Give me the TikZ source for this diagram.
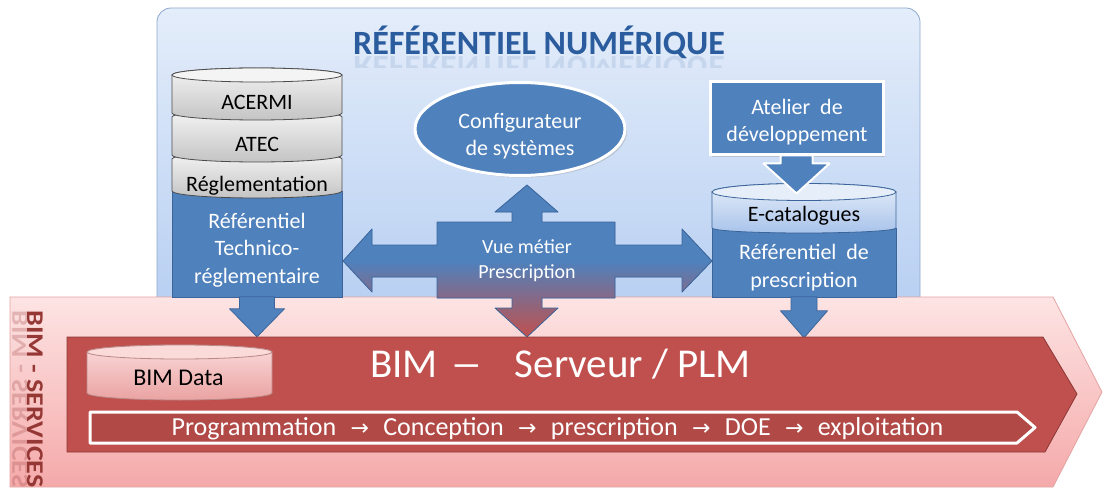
\documentclass[tikz,border=0pt]{standalone}
\usepackage{fontspec}
\usepackage{graphicx}
\setmainfont{Carlito}
\newfontfamily\symfont{DejaVu Sans}
\usetikzlibrary{shapes,arrows,positioning,calc,shadows}

\definecolor{panelTop}{HTML}{E4EDFA}
\definecolor{panelBot}{HTML}{B7CFF2}
\definecolor{panelLine}{HTML}{8EA8CC}
\definecolor{blueFill}{HTML}{4F81BD}
\definecolor{blueLine}{HTML}{3B659A}
\definecolor{redFill}{HTML}{C0504D}
\definecolor{redLine}{HTML}{8C3836}
\definecolor{bandTop}{HTML}{FDE4E4}
\definecolor{bandBot}{HTML}{F5A9A9}
\definecolor{bandLine}{HTML}{E3A3A2}
\definecolor{grayTop}{HTML}{F4F4F4}
\definecolor{grayBot}{HTML}{C4C4C4}
\definecolor{titleBlue}{HTML}{2B5C9E}
\definecolor{servRed}{HTML}{953735}
\definecolor{pinkTop}{HTML}{FBDADA}
\definecolor{pinkBot}{HTML}{E9A3A2}
\definecolor{ecatTop}{HTML}{E6EEFA}
\definecolor{ecatBot}{HTML}{A8C3EA}

\newcommand{\fleche}{\hspace{0.55em}{\symfont\fontsize{22}{22}\selectfont →}\hspace{0.55em}}

\begin{document}
\begin{tikzpicture}[x=1pt, y=-1pt,
    every node/.style={align=center, inner sep=0pt},
    txt/.style={font=\fontsize{22}{27.5}\selectfont},
    bluebox/.style={rectangle, fill=blueFill, draw=blueLine, line width=0.8pt},
    whitebox/.style={fill=blueFill, draw=white, line width=3pt, drop shadow={opacity=0.3, shadow xshift=2pt, shadow yshift=-2pt}},
    blockarr/.style={fill=blueFill, draw=blueLine, line width=0.8pt, line join=round},
    layer/.style={top color=grayTop, bottom color=grayBot, draw=black!70, line width=0.8pt},
    titre/.style={font=\fontsize{34}{34}\selectfont\bfseries, text=titleBlue},
    servtxt/.style={font=\fontsize{24}{24}\selectfont\bfseries, text=servRed, rotate=-90, xscale=1.17}]
\useasboundingbox (0,0) rectangle (1105,489);

% Referentiel numerique
\draw[rounded corners=14pt, top color=panelTop, bottom color=panelBot, draw=panelLine, line width=0.8pt] (157,8) rectangle (920,310);
\node[titre, anchor=base] (titreRef) at (539,55) {RÉFÉRENTIEL NUMÉRIQUE};
\begin{scope}
  \clip (340,56) rectangle (740,68);
  \node[titre, anchor=base, yscale=-1, opacity=0.12] (titreReflet) at (539,57) {RÉFÉRENTIEL NUMÉRIQUE};
\end{scope}

% BIM services
\draw[top color=bandTop, bottom color=bandBot, draw=bandLine, line width=0.8pt] (10,297) -- (1053,297) -- (1102,392) -- (1053,487) -- (10,487) -- cycle;
\node[servtxt] (services) at (35,399) {BIM - SERVICES};
\node[servtxt, yscale=-1, opacity=0.25] (servReflet) at (20,399) {BIM - SERVICES};

% Referentiel technico-reglementaire
\node[bluebox, minimum width=170, minimum height=106, anchor=north] (techno) at (257,191) {};
\foreach \haut/\bas in {159/191, 117/155, 75/113}
  \draw[layer] (172,\haut) -- (172,\bas) arc[start angle=180, end angle=0, x radius=85, y radius=7]
    -- (342,\haut) arc[start angle=0, end angle=-180, x radius=85, y radius=7] -- cycle;
\draw[fill=grayTop, draw=black!70, line width=0.8pt] (257,75) ellipse[x radius=85, y radius=7];
\node[txt, anchor=base] (acermi) at (257,110) {ACERMI};
\node[txt, anchor=base] (atec) at (257,152) {ATEC};
\node[txt, anchor=base] (regl) at (257,192) {Réglementation};
\node[txt, text=white] (technoTxt) at (257,250) {Référentiel\\Technico-\\réglementaire};

% Configurateur
\node[whitebox, ellipse, minimum width=210, minimum height=93] (config) at (520,129) {};
\node[txt, text=white] (configTxt) at (520,136) {Configurateur\\de systèmes};

% Vue metier
\draw[blockarr, top color=blueFill, bottom color=redFill, middle color=blueFill]
  (527,185) -- (558,212) -- (542,212) -- (542,222) -- (615,222) -- (615,245) -- (682,245) -- (682,229)
  -- (712,261) -- (682,292) -- (682,277) -- (615,277) -- (615,298) -- (542,298) -- (542,308) -- (558,308)
  -- (527,337) -- (495,308) -- (512,308) -- (512,298) -- (437,298) -- (437,277) -- (372,277) -- (372,292)
  -- (343,261) -- (372,229) -- (372,245) -- (437,245) -- (437,222) -- (512,222) -- (512,212) -- (495,212) -- cycle;
\node[font=\fontsize{20}{25}\selectfont, text=white] (vue) at (527,260.5) {Vue métier\\Prescription};

% Referentiel de prescription
\node[bluebox, minimum width=184, minimum height=69, anchor=north] (prescr) at (804,228) {};
\draw[top color=ecatTop, bottom color=ecatBot, draw=blueLine, line width=0.8pt] (712,192) -- (712,228)
  arc[start angle=180, end angle=0, x radius=92, y radius=5] -- (896,192)
  arc[start angle=0, end angle=-180, x radius=92, y radius=8.5] -- cycle;
\draw[fill=ecatTop, draw=blueLine, line width=0.8pt] (804,192) ellipse[x radius=92, y radius=8.5];
\node[txt, anchor=base] (ecat) at (804,222) {E-catalogues};
\node[txt, text=white] (prescrTxt) at (804,267.5) {Référentiel~~de\\prescription};

% Atelier de developpement
\node[whitebox, rectangle, minimum width=173, minimum height=73] (atelier) at (796.5,118.5) {};
\node[txt, text=white] (atelierTxt) at (797,122) {Atelier~~de\\développement};
\draw[blockarr, draw=white, line width=2pt] (atelier.south) ++(-16,-1) -- ++(0,8) -- ++(-17,0) -- ++(33,30)
  -- ++(33,-30) -- ++(-17,0) -- ++(0,-8) -- cycle;

% Arrows down
\draw[blockarr] (techno.south) ++(-17.5,-1) -- ++(0,12) -- ++(-10,0) -- ++(27.5,28) -- ++(27.5,-28)
  -- ++(-10,0) -- ++(0,-12) -- cycle;
\draw[blockarr] (prescr.south) ++(-13,-1) -- ++(0,14) -- ++(-10.5,0) -- ++(23.5,27) -- ++(23.5,-27)
  -- ++(-10.5,0) -- ++(0,-14) -- cycle;

% BIM serveur
\draw[fill=redFill, draw=redLine, line width=0.8pt] (67,337) -- (1043,337) -- (1077,394) -- (1045,452) -- (67,452) -- cycle;
\node[font=\fontsize{41}{41}\selectfont, text=white, anchor=base] (plm) at (560.5,377)
  {BIM\hspace{4pt} \scalebox{1.6}[1]{–}\hspace{22pt} Serveur / PLM};

% BIM data
\draw[top color=pinkTop, bottom color=pinkBot, draw=redLine!60, line width=0.8pt] (87,352) -- (87,393)
  arc[start angle=180, end angle=0, x radius=92.5, y radius=7] -- (272,352)
  arc[start angle=0, end angle=-180, x radius=92.5, y radius=7] -- cycle;
\draw[fill=pinkTop, draw=redLine!60, line width=0.8pt] (179.5,352) ellipse[x radius=92.5, y radius=7];
\node[font=\fontsize{24}{24}\selectfont, anchor=base] (bimdata) at (178.5,385) {BIM Data};

% Etapes
\draw[fill=redFill!92!black, draw=white, line width=3pt, line join=round] (90,412) -- (1017,412) -- (1035,427.5) -- (1017,443) -- (90,443) -- cycle;
\node[font=\fontsize{26}{26}\selectfont, text=white, anchor=base] (etapes) at (557.5,435)
  {Programmation\fleche Conception\fleche prescription\fleche DOE\fleche exploitation};
\end{tikzpicture}
\end{document}
